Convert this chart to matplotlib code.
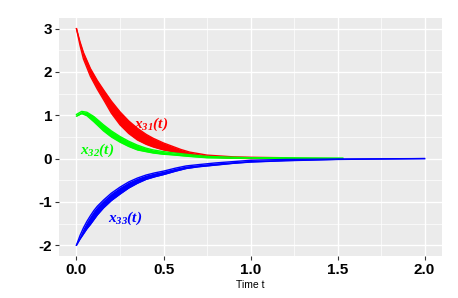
import matplotlib.pyplot as plt
import numpy as np

plt.rcParams['axes.unicode_minus'] = False
plt.rcParams['mathtext.fontset'] = 'custom'
plt.rcParams['mathtext.it'] = 'Liberation Serif:italic:bold'
plt.rcParams['mathtext.rm'] = 'Liberation Serif:italic:bold'

# trajectories bands (lower / upper edge)
t_red = [0, 0.02, 0.04, 0.08, 0.12, 0.16, 0.2, 0.25, 0.3, 0.35, 0.4, 0.44, 0.5, 0.54, 0.6, 0.65, 0.75, 0.9, 1.0, 1.18]
red_hi = [3.0, 2.7, 2.45, 2.08, 1.8, 1.56, 1.33, 1.08, 0.87, 0.7, 0.56, 0.47, 0.36, 0.3, 0.21, 0.15, 0.08, 0.04, 0.03, 0.02]
red_lo = [3.0, 2.62, 2.3, 1.9, 1.6, 1.33, 1.05, 0.78, 0.58, 0.43, 0.33, 0.27, 0.2, 0.17, 0.12, 0.09, 0.04, 0.01, 0.0, 0.0]

t_green = [0, 0.03, 0.06, 0.1, 0.155, 0.2, 0.25, 0.3, 0.35, 0.4, 0.44, 0.5, 0.54, 0.65, 0.75, 0.9, 1.0, 1.2, 1.53]
green_hi = [1.02, 1.09, 1.07, 0.97, 0.78, 0.64, 0.51, 0.4, 0.31, 0.24, 0.2, 0.16, 0.14, 0.09, 0.05, 0.03, 0.02, 0.02, 0.01]
green_lo = [0.98, 1.04, 0.99, 0.85, 0.64, 0.5, 0.38, 0.28, 0.2, 0.16, 0.13, 0.1, 0.09, 0.05, 0.02, 0.01, 0.01, 0.0, 0.0]

t_blue = [0, 0.02, 0.04, 0.06, 0.08, 0.1, 0.12, 0.155, 0.2, 0.25, 0.3, 0.35, 0.4, 0.45, 0.5, 0.57, 0.63, 0.7, 0.8, 0.9, 1.0, 1.2, 1.5, 2.0]
blue_hi = [-2.0, -1.78, -1.6, -1.45, -1.32, -1.2, -1.1, -0.96, -0.8, -0.66, -0.54, -0.45, -0.38, -0.33, -0.29, -0.22, -0.17, -0.14, -0.1, -0.07, -0.04, -0.02, -0.01, 0.0]
blue_lo = [-2.0, -1.86, -1.74, -1.62, -1.52, -1.41, -1.3, -1.14, -0.97, -0.82, -0.68, -0.57, -0.48, -0.42, -0.37, -0.29, -0.23, -0.19, -0.15, -0.11, -0.08, -0.05, -0.02, 0.0]

xticks = [0.0, 0.5, 1.0, 1.5, 2.0]
yticks = [-2, -1, 0, 1, 2, 3]

fig = plt.figure(figsize=(4.58, 2.98), dpi=100)
ax = fig.add_axes([0.129, 0.141, 0.836, 0.799])
ax.set_facecolor('#EBEBEB')

for t, lo, hi, c in [(t_red, red_lo, red_hi, '#FF0000'),
                     (t_green, green_lo, green_hi, '#00FF00'),
                     (t_blue, blue_lo, blue_hi, '#0000FF')]:
    ax.fill_between(t, lo, hi, color=c, lw=0, zorder=3)
    ax.plot(t, lo, color=c, lw=1, zorder=3)
    ax.plot(t, hi, color=c, lw=1, zorder=3)

ax.text(0.43, 0.8, r'$x_{31}(t)$', color='#FF0000', fontsize=11, ha='center', va='center', zorder=4)
ax.text(0.12, 0.18, r'$x_{32}(t)$', color='#00FF00', fontsize=11, ha='center', va='center', zorder=4)
ax.text(0.28, -1.38, r'$x_{33}(t)$', color='#0000FF', fontsize=11, ha='center', va='center', zorder=4)

ax.set_xlim(-0.1, 2.1)
ax.set_ylim(-2.25, 3.25)
ax.set_xticks(xticks)
ax.set_xticklabels(['0.0', '0.5', '1.0', '1.5', '2.0'])
ax.set_yticks(yticks)
ax.set_xticks([0.25, 0.75, 1.25, 1.75], minor=True)
ax.set_yticks([-1.5, -0.5, 0.5, 1.5, 2.5], minor=True)
ax.grid(True, which='major', color='white', lw=1.0, zorder=0)
ax.grid(True, which='minor', color='white', lw=0.5, zorder=0)
ax.set_axisbelow(True)
for s in ax.spines.values():
    s.set_visible(False)
ax.tick_params(which='major', length=3, color='#333333', width=0.8, pad=2)
ax.tick_params(which='minor', length=0)
for lab in ax.get_xticklabels() + ax.get_yticklabels():
    lab.set_fontfamily('Liberation Sans')
    lab.set_fontweight('bold')
    lab.set_fontsize(11)
    lab.set_color('black')
ax.set_xlabel('Time t', fontfamily='Liberation Sans', fontsize=7.5, labelpad=2)

fig.savefig('out.png', dpi=100)
